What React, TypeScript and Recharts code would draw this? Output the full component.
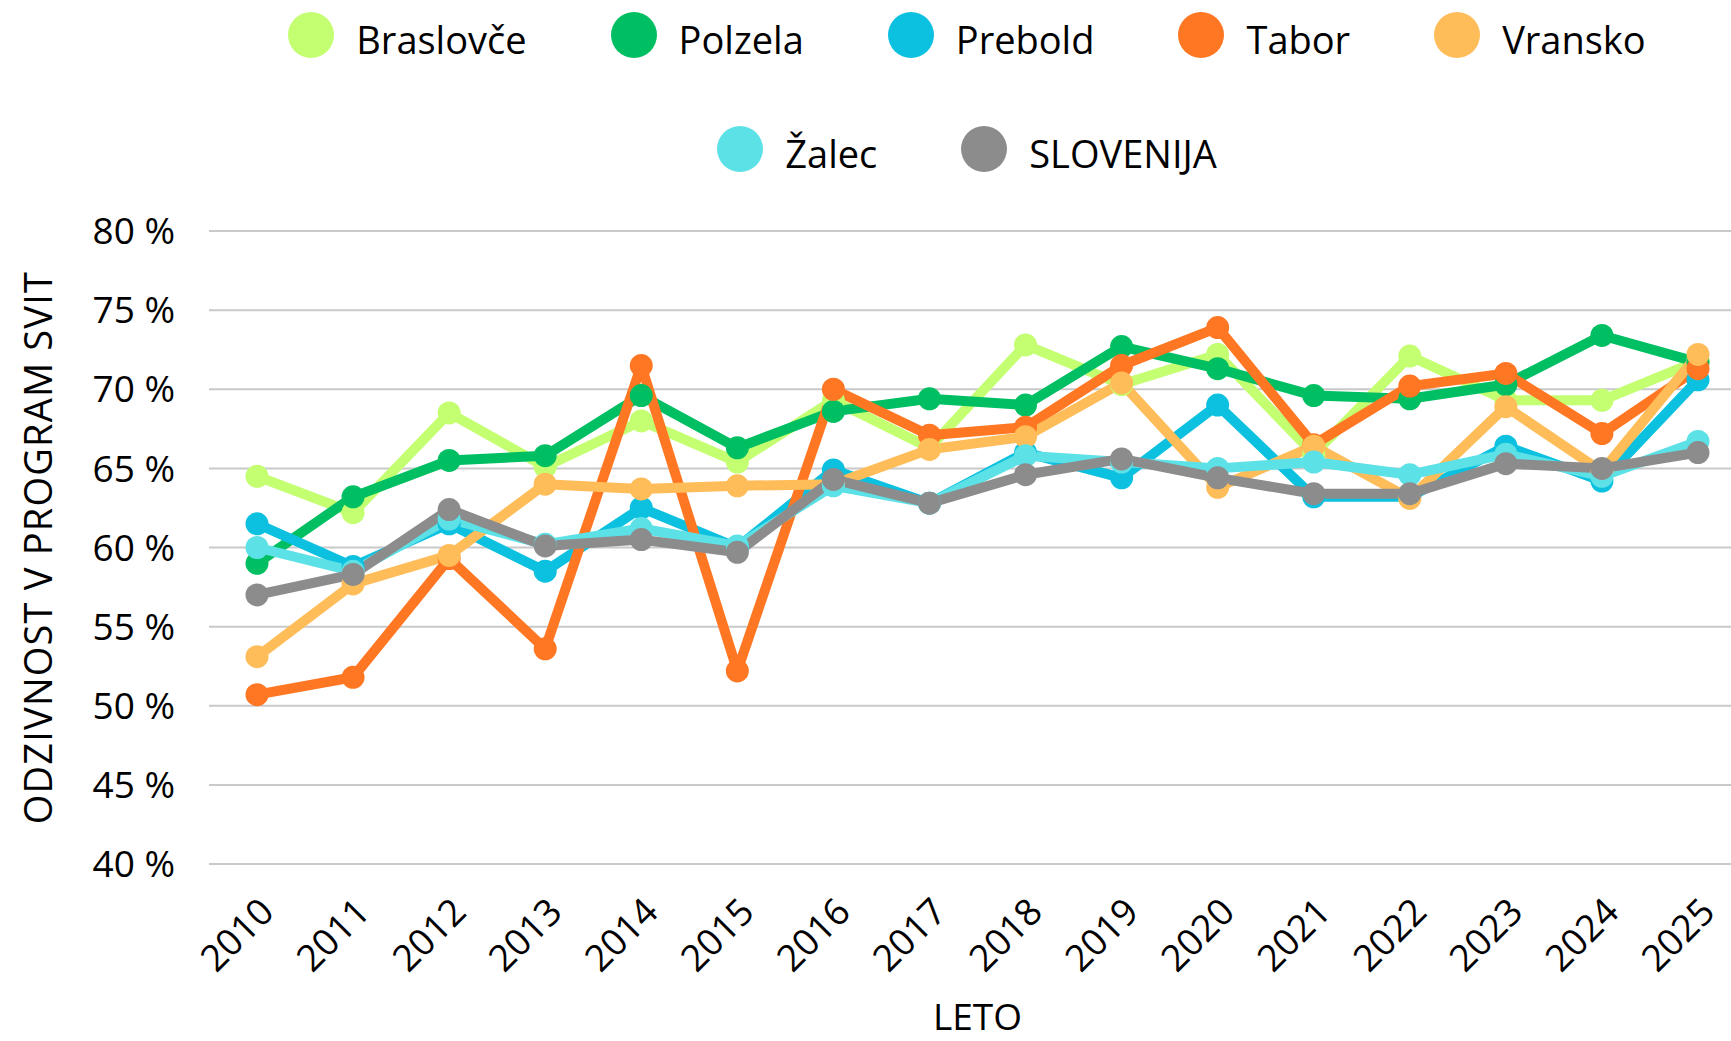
import React from 'react';
import { LineChart, Line, XAxis, YAxis, CartesianGrid, Legend } from 'recharts';

// Odzivnost v program SVIT po občinah
const years = ['2010', '2011', '2012', '2013', '2014', '2015', '2016', '2017', '2018', '2019', '2020', '2021', '2022', '2023', '2024', '2025'];

const braslovce = [64.5, 62.2, 68.5, 65.1, 68.0, 65.4, 69.3, 66.3, 72.8, 70.3, 72.2, 65.9, 72.1, 69.3, 69.3, 71.8];
const polzela = [59.0, 63.2, 65.5, 65.8, 69.6, 66.3, 68.6, 69.4, 69.0, 72.7, 71.3, 69.6, 69.4, 70.3, 73.4, 71.7];
const prebold = [61.5, 58.8, 61.5, 58.5, 62.5, 60.0, 64.9, 62.8, 66.0, 64.4, 69.0, 63.2, 63.2, 66.4, 64.2, 70.6];
const tabor = [50.7, 51.8, 59.3, 53.6, 71.5, 52.2, 70.0, 67.1, 67.6, 71.5, 73.9, 66.5, 70.2, 71.0, 67.2, 71.3];
const vransko = [53.1, 57.7, 59.5, 64.0, 63.7, 63.9, 64.0, 66.2, 67.0, 70.4, 63.8, 66.4, 63.1, 68.9, 64.8, 72.2];
const zalec = [60.0, 58.5, 61.8, 60.2, 61.2, 60.1, 63.9, 62.8, 65.8, 65.4, 65.0, 65.4, 64.6, 65.9, 64.5, 66.7];
const slovenija = [57.0, 58.3, 62.4, 60.1, 60.5, 59.7, 64.3, 62.8, 64.6, 65.6, 64.4, 63.4, 63.4, 65.3, 65.0, 66.0];

const yTicks = [40, 45, 50, 55, 60, 65, 70, 75, 80];

const SERIES = [
  { key: 'braslovce', name: 'Braslovče', color: '#C3FF70', values: braslovce },
  { key: 'polzela', name: 'Polzela', color: '#00BF63', values: polzela },
  { key: 'prebold', name: 'Prebold', color: '#0CC0DF', values: prebold },
  { key: 'tabor', name: 'Tabor', color: '#FF7722', values: tabor },
  { key: 'vransko', name: 'Vransko', color: '#FFBD59', values: vransko },
  { key: 'zalec', name: 'Žalec', color: '#5CE1E6', values: zalec },
  { key: 'slovenija', name: 'SLOVENIJA', color: '#8C8C8C', values: slovenija },
];

const data = years.map((year, i) => {
  const row: Record<string, string | number> = { year };
  SERIES.forEach((s) => {
    row[s.key] = s.values[i];
  });
  return row;
});

const FONT = '"Open Sans", sans-serif';
const FONT_SIZE = 37;

const XTick = ({ x, y, payload }: any) => {
  const tx = x + 19;
  const ty = y + 50;
  return (
    <text
      x={tx}
      y={ty}
      transform={`rotate(-45 ${tx} ${ty})`}
      textAnchor="end"
      fontSize={FONT_SIZE}
      fontFamily={FONT}
      fill="#000"
    >
      {payload.value}
    </text>
  );
};

const LegendItem = ({ name, color }: { name: string; color: string }) => (
  <div style={{ display: 'flex', alignItems: 'center' }}>
    <div style={{ width: 46, height: 46, borderRadius: '50%', background: color, marginRight: 22 }} />
    <span
      style={{
        fontSize: 38,
        lineHeight: '46px',
        color: '#000',
        position: 'relative',
        top: 4,
      }}
    >
      {name}
    </span>
  </div>
);

const renderLegend = () => {
  const rows = [SERIES.slice(0, 5), SERIES.slice(5)];
  return (
    <div style={{ fontFamily: FONT }}>
      {rows.map((row, r) => (
        <div
          key={r}
          style={{
            position: 'absolute',
            top: r === 0 ? 12 : 126,
            left: 0,
            width: '100%',
            display: 'flex',
            justifyContent: 'center',
            gap: 84,
          }}
        >
          {row.map((s) => (
            <LegendItem key={s.key} name={s.name} color={s.color} />
          ))}
        </div>
      ))}
    </div>
  );
};

export default function App() {
  return (
    <div
      style={{
        position: 'absolute',
        top: 0,
        left: 0,
        width: 1731,
        height: 1041,
        overflow: 'hidden',
        background: '#fff',
      }}
    >
      <LineChart
        width={1760}
        height={1041}
        data={data}
        margin={{ top: 231, right: 14, left: 0, bottom: 0 }}
        style={{ fontFamily: FONT }}
      >
        <CartesianGrid vertical={false} stroke="#C9C9C9" strokeWidth={2} />
        <XAxis
          dataKey="year"
          height={177}
          padding={{ left: 48, right: 48 }}
          axisLine={false}
          tickLine={false}
          tickSize={0}
          tickMargin={0}
          interval={0}
          tick={<XTick />}
          label={{
            value: 'LETO',
            position: 'insideBottom',
            offset: 11,
            style: { fontSize: FONT_SIZE, fill: '#000', fontFamily: FONT },
          }}
        />
        <YAxis
          domain={[40, 80]}
          ticks={yTicks}
          width={209}
          axisLine={false}
          tickLine={false}
          tickSize={0}
          tickMargin={34}
          tickFormatter={(v) => `${v} %`}
          tick={{ fontSize: FONT_SIZE, fill: '#000', fontFamily: FONT }}
          label={{
            value: 'ODZIVNOST V PROGRAM SVIT',
            angle: -90,
            position: 'insideLeft',
            offset: 39,
            style: { textAnchor: 'middle', fontSize: 38, letterSpacing: 1.2, fill: '#000', fontFamily: FONT },
          }}
        />
        <Legend
          layout="horizontal"
          verticalAlign="middle"
          align="center"
          content={renderLegend}
          wrapperStyle={{ top: 0, left: 0, width: 1934, height: 200 }}
        />
        {SERIES.map((s) => (
          <Line
            key={s.key}
            type="linear"
            dataKey={s.key}
            name={s.name}
            stroke={s.color}
            strokeWidth={10}
            strokeLinejoin="round"
            dot={{ r: 11.5, fill: s.color, stroke: 'none' }}
            activeDot={false}
            isAnimationActive={false}
          />
        ))}
      </LineChart>
    </div>
  );
}
